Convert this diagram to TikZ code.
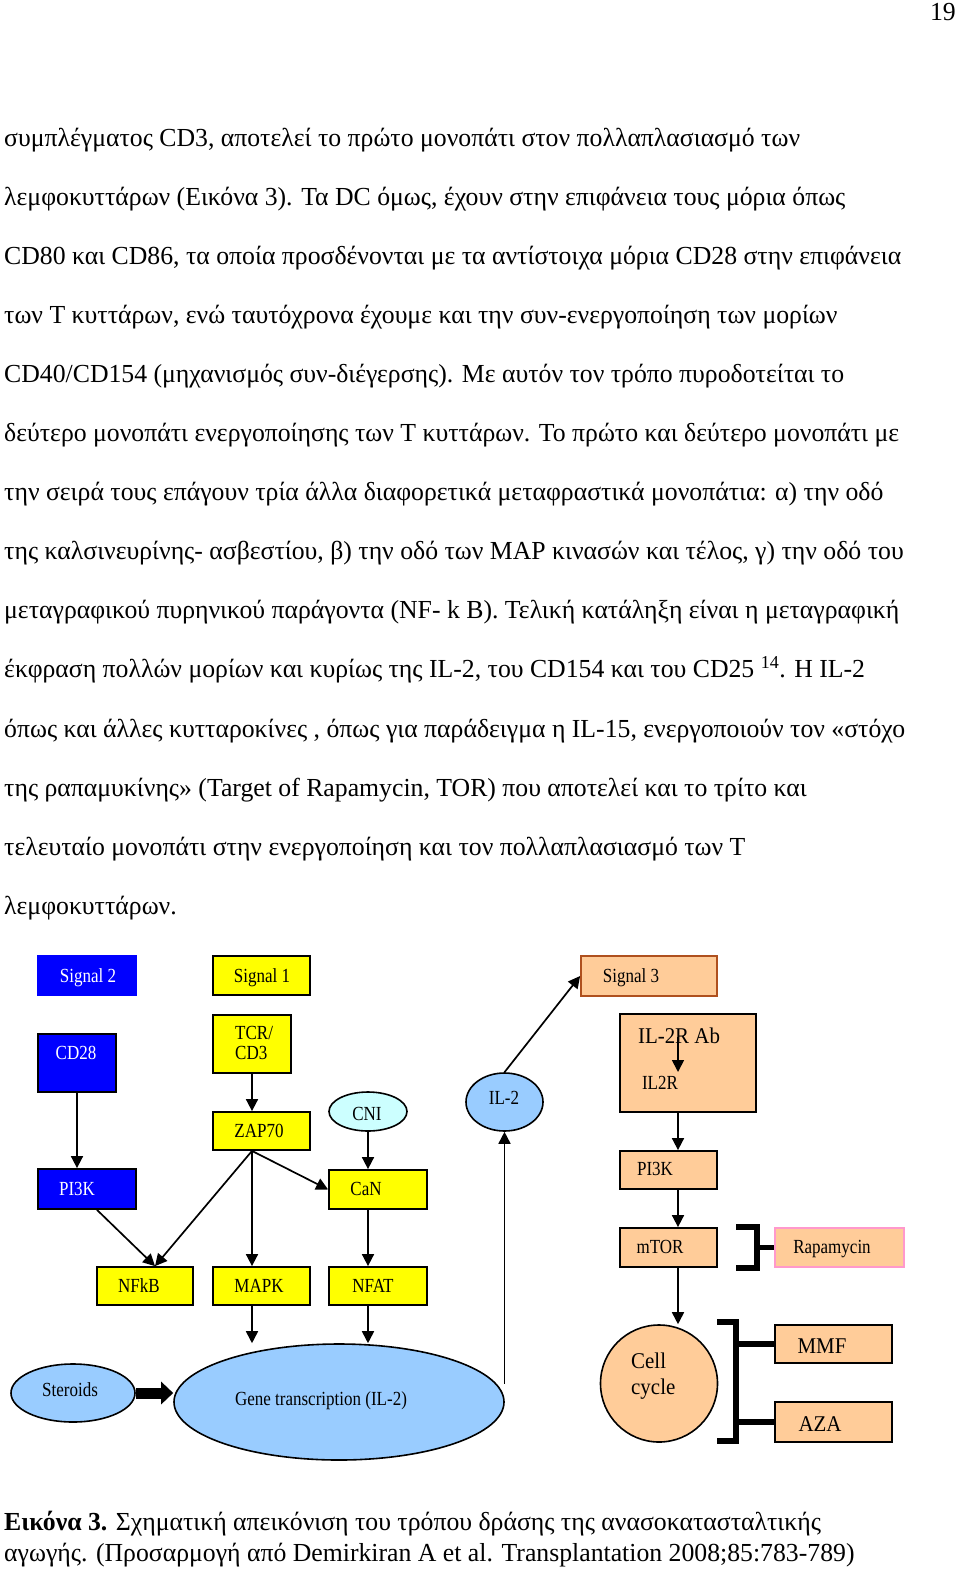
\documentclass[tikz,border=0pt]{standalone}
\usepackage{fontspec}
\setmainfont{Liberation Serif}[FakeStretch=0.85]
\newfontfamily\bigfont{Liberation Serif}[FakeStretch=0.93]
\newfontfamily\bodyfont{Liberation Serif}[FakeStretch=0.99]
\usetikzlibrary{arrows.meta,shapes.geometric,calc}
\definecolor{sigblue}{RGB}{0,0,255}
\definecolor{sigyellow}{RGB}{255,255,0}
\definecolor{sigorange}{RGB}{255,204,153}
\definecolor{lightblue}{RGB}{153,204,255}
\definecolor{lightcyan}{RGB}{204,255,255}
\definecolor{pinkborder}{RGB}{255,153,204}
\definecolor{brownborder}{RGB}{175,80,30}
\tikzset{
  box/.style={draw=black, line width=1.8pt, inner sep=0pt},
  oval/.style={ellipse, draw=black, line width=1.6pt, inner sep=0pt},
  lab/.style={inner sep=0pt, anchor=base, font=\fontsize{20}{20}\selectfont},
  biglab/.style={inner sep=0pt, anchor=base, font=\bigfont\fontsize{22.5}{22.5}\selectfont},
  bodytext/.style={inner sep=0pt, anchor=base west, font=\bodyfont\fontsize{26}{26}\selectfont},
  arr/.style={-{Triangle[length=12pt,width=12pt]}, line width=1.7pt},
  thickarr/.style={-{Triangle[length=12pt,width=22pt]}, line width=11pt},
  bracket/.style={line width=5.5pt, line join=miter},
}
\begin{document}
\begin{tikzpicture}[x=1pt,y=-1pt]
\useasboundingbox[fill=white] (0,0) rectangle (960,1577);

% page number
\node[inner sep=0pt, anchor=base east, font=\bodyfont\fontsize{26}{26}\selectfont] (pagenum) at (956,20) {19};

% body text
\node[bodytext] (t1) at (4,146) {συμπλέγματος CD3, αποτελεί το πρώτο μονοπάτι στον πολλαπλασιασμό των};
\node[bodytext] (t2) at (4,205.1) {λεμφοκυττάρων (Εικόνα 3). Τα DC όμως, έχουν στην επιφάνεια τους μόρια όπως};
\node[bodytext] (t3) at (4,264.2) {CD80 και CD86, τα οποία προσδένονται με τα αντίστοιχα μόρια CD28 στην επιφάνεια};
\node[bodytext] (t4) at (4,323.3) {των Τ κυττάρων, ενώ ταυτόχρονα έχουμε και την συν-ενεργοποίηση των μορίων};
\node[bodytext] (t5) at (4,382.4) {CD40/CD154 (μηχανισμός συν-διέγερσης). Με αυτόν τον τρόπο πυροδοτείται το};
\node[bodytext] (t6) at (4,441.5) {δεύτερο μονοπάτι ενεργοποίησης των Τ κυττάρων. Το πρώτο και δεύτερο μονοπάτι με};
\node[bodytext] (t7) at (4,500.6) {την σειρά τους επάγουν τρία άλλα διαφορετικά μεταφραστικά μονοπάτια: α) την οδό};
\node[bodytext] (t8) at (4,559.7) {της καλσινευρίνης- ασβεστίου, β) την οδό των MAP κινασών και τέλος, γ) την οδό του};
\node[bodytext] (t9) at (4,618.8) {μεταγραφικού πυρηνικού παράγοντα (NF- k B). Τελική κατάληξη είναι η μεταγραφική};
\node[bodytext] (t10) at (4,677.9) {έκφραση πολλών μορίων και κυρίως της IL-2, του CD154 και του CD25 \textsuperscript{14}. Η IL-2};
\node[bodytext] (t11) at (4,737) {όπως και άλλες κυτταροκίνες , όπως για παράδειγμα η IL-15, ενεργοποιούν τον «στόχο};
\node[bodytext] (t12) at (4,796.1) {της ραπαμυκίνης» (Target of Rapamycin, TOR) που αποτελεί και το τρίτο και};
\node[bodytext] (t13) at (4,855.2) {τελευταίο μονοπάτι στην ενεργοποίηση και τον πολλαπλασιασμό των Τ};
\node[bodytext] (t14) at (4,914.3) {λεμφοκυττάρων.};

% ---------- diagram boxes ----------
\node[box, draw=sigblue, fill=sigblue, minimum width=98pt, minimum height=39pt] (sig2) at (87,975.5) {};
\node[box, fill=sigyellow, minimum width=97pt, minimum height=39pt] (sig1) at (261.5,975.5) {};
\node[box, draw=brownborder, fill=sigorange, minimum width=136pt, minimum height=40pt] (sig3) at (649,976) {};
\node[box, fill=sigblue, minimum width=78pt, minimum height=58pt] (cd28) at (77,1063) {};
\node[box, fill=sigyellow, minimum width=78pt, minimum height=58pt] (tcr) at (252,1044) {};
\node[box, fill=sigyellow, minimum width=97pt, minimum height=38pt] (zap) at (261.5,1131) {};
\node[oval, fill=lightcyan, minimum width=78pt, minimum height=39pt] (cni) at (368,1111.5) {};
\node[oval, fill=lightblue, minimum width=77pt, minimum height=58pt] (il2) at (504.5,1102) {};
\node[box, fill=sigorange, minimum width=136pt, minimum height=98pt] (il2r) at (688,1063) {};
\node[box, fill=sigorange, minimum width=97pt, minimum height=38pt] (pi3ko) at (668.5,1170) {};
\node[box, fill=sigorange, minimum width=97pt, minimum height=39pt] (mtor) at (668.5,1247.5) {};
\node[box, draw=pinkborder, fill=sigorange, minimum width=129pt, minimum height=39pt] (rapa) at (839.5,1247.5) {};
\node[circle, draw=black, line width=1.6pt, inner sep=0pt, fill=sigorange, minimum size=117pt] (cell) at (659,1383.5) {};
\node[box, fill=sigorange, minimum width=117pt, minimum height=38pt] (mmf) at (833.5,1344) {};
\node[box, fill=sigorange, minimum width=117pt, minimum height=40pt] (aza) at (833.5,1422) {};
\node[box, fill=sigblue, minimum width=98pt, minimum height=40pt] (pi3kb) at (87,1189) {};
\node[box, fill=sigyellow, minimum width=96pt, minimum height=38pt] (nfkb) at (145,1286) {};
\node[box, fill=sigyellow, minimum width=97pt, minimum height=38pt] (mapk) at (261.5,1286) {};
\node[box, fill=sigyellow, minimum width=98pt, minimum height=38pt] (nfat) at (378,1286) {};
\node[box, fill=sigyellow, minimum width=98pt, minimum height=39pt] (can) at (378,1189.5) {};
\node[oval, fill=lightblue, minimum width=330pt, minimum height=116pt] (gene) at (339,1402) {};
\node[oval, fill=lightblue, minimum width=124pt, minimum height=58pt] (steroids) at (73,1393) {};

% ---------- labels ----------
\node[lab, text=white] (sig2l) at (88,982) {Signal 2};
\node[lab] (sig1l) at (262,982) {Signal 1};
\node[lab] (sig3l) at (631,982) {Signal 3};
\node[lab, text=white] (cd28l) at (76,1059) {CD28};
\node[lab, anchor=base west] (tcrl) at (235,1039) {TCR/};
\node[lab, anchor=base west] (cd3l) at (235,1059) {CD3};
\node[lab] (zapl) at (259,1137) {ZAP70};
\node[lab] (cnil) at (367,1120) {CNI};
\node[lab] (il2l) at (504,1104) {IL-2};
\node[biglab] (il2abl) at (679,1043) {IL-2R Ab};
\node[lab] (il2rl) at (660,1089) {IL2R};
\node[lab] (pi3kol) at (655,1175) {PI3K};
\node[lab] (mtorl) at (660,1253) {mTOR};
\node[lab] (rapal) at (832,1253) {Rapamycin};
\node[lab, text=white] (pi3kbl) at (77,1195) {PI3K};
\node[lab] (nfkbl) at (139,1292) {NFkB};
\node[lab] (mapkl) at (259,1292) {MAPK};
\node[lab] (canl) at (366,1195) {CaN};
\node[lab] (nfatl) at (373,1292) {NFAT};
\node[lab] (steroidsl) at (70,1396) {Steroids};
\node[lab] (genel) at (321,1405) {Gene transcription (IL-2)};
\node[biglab, anchor=base west] (celll) at (631,1368) {Cell};
\node[biglab, anchor=base west] (cyclel) at (631,1394) {cycle};
\node[biglab] (mmfl) at (822,1353) {MMF};
\node[biglab] (azal) at (820,1431) {AZA};

% ---------- connectors ----------
\coordinate (zapout) at (zap.south -| tcr.south);
\draw[arr] (cd28.south) -- (cd28.south |- pi3kb.north);
\draw[arr] (tcr.south) -- (tcr.south |- zap.north);
\draw[arr] (zapout) -- ([xshift=10pt]nfkb.north);
\draw[arr] ([xshift=10pt]pi3kb.south) -- ([xshift=10pt]nfkb.north);
\draw[arr] (zapout) -- (zapout |- mapk.north);
\draw[arr] (zapout) -- (can.west);
\draw[arr] (cni.south) -- (cni.south |- can.north);
\draw[arr] ([xshift=-10pt]can.south) -- ([xshift=-10pt]nfat.north);
\draw[arr] (mapk.south -| zapout) -- (zapout |- gene.north);
\draw[arr] ([xshift=-10pt]nfat.south) -- ([xshift=-10pt]nfat.south |- gene.north);
\draw[thickarr] (steroids.east) -- (steroids.east -| gene.west);
\draw[arr] (il2.north) -- (sig3.west);
\coordinate (il2up) at ([yshift=-252pt]il2.south);
\draw[arr] (il2up) -- (il2.south);
\coordinate (il2rA) at (678,1037);
\coordinate (il2rB) at (678,1072);
\draw[arr] (il2rA) -- (il2rB);
\draw[arr] ([xshift=-10pt]il2r.south) -- ([xshift=9.5pt]pi3ko.north);
\draw[arr] ([xshift=9.5pt]pi3ko.south) -- ([xshift=9.5pt]mtor.north);
\draw[arr] ([xshift=9.5pt]mtor.south) -- ([xshift=9.5pt]mtor.south |- cell.north);
% brackets
\draw[bracket] ($(rapa.west)+(-38,-20.5)$) -- ++(21,0) -- ++(0,41) -- ++(-21,0);
\draw[bracket] (rapa.west) -- ++(-17,0);
\draw[bracket] ($(mmf.north west)+(-57,-2)$) -- ++(19,0) -- ++(0,119) -- ++(-19,0);
\draw[bracket] (mmf.west) -- ++(-38,0);
\draw[bracket] (aza.west) -- ++(-38,0);

% caption
\node[bodytext] (cap1) at (4,1530) {\textbf{Εικόνα 3.} Σχηματική απεικόνιση του τρόπου δράσης της ανασοκατασταλτικής};
\node[bodytext] (cap2) at (4,1561) {αγωγής. (Προσαρμογή από Demirkiran A et al. Transplantation 2008;85:783-789)};
\end{tikzpicture}
\end{document}
